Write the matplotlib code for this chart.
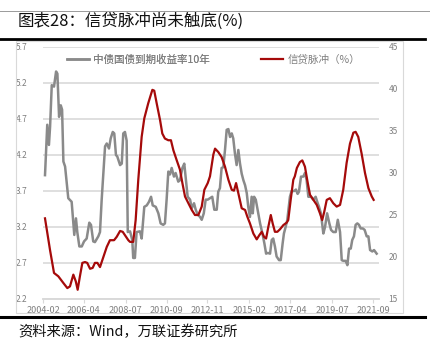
import matplotlib
matplotlib.use("Agg")
import matplotlib.pyplot as plt
from matplotlib.lines import Line2D
from matplotlib.patches import Rectangle

plt.rcParams['font.family'] = ['Noto Sans CJK SC', 'DejaVu Sans']

# 10-year China government bond yield (%), time in decimal years
bond_t = [2004.19, 2004.31, 2004.40, 2004.46, 2004.55, 2004.67, 2004.78, 2004.85, 2004.94, 2005.03,
          2005.10, 2005.17, 2005.26, 2005.43, 2005.61, 2005.75, 2005.84, 2005.91, 2006.02, 2006.15,
          2006.27, 2006.41, 2006.55, 2006.64, 2006.76, 2006.85, 2007.03, 2007.12, 2007.21, 2007.39,
          2007.48, 2007.60, 2007.69, 2007.80, 2007.88, 2007.97, 2008.04, 2008.19, 2008.28, 2008.36,
          2008.45, 2008.54, 2008.60, 2008.72, 2008.84, 2008.89, 2008.98, 2009.07, 2009.25, 2009.34,
          2009.48, 2009.61, 2009.73, 2009.84, 2009.93, 2010.09, 2010.23, 2010.35, 2010.49, 2010.58,
          2010.67, 2010.76, 2010.85, 2010.94, 2011.06, 2011.15, 2011.29, 2011.38, 2011.51, 2011.61,
          2011.70, 2011.79, 2011.92, 2012.01, 2012.13, 2012.22, 2012.33, 2012.45, 2012.54, 2012.65,
          2012.75, 2012.86, 2012.98, 2013.10, 2013.21, 2013.34, 2013.42, 2013.51, 2013.60, 2013.69,
          2013.78, 2013.87, 2013.96, 2014.05, 2014.14, 2014.22, 2014.31, 2014.40, 2014.49, 2014.58,
          2014.67, 2014.76, 2014.85, 2014.94, 2015.02, 2015.11, 2015.20, 2015.26, 2015.33, 2015.42,
          2015.52, 2015.65, 2015.79, 2015.88, 2015.97, 2016.06, 2016.18, 2016.27, 2016.35, 2016.44,
          2016.53, 2016.66, 2016.75, 2016.85, 2016.92, 2017.01, 2017.10, 2017.24, 2017.33, 2017.47,
          2017.56, 2017.65, 2017.72, 2017.83, 2017.95, 2018.04, 2018.13, 2018.22, 2018.36, 2018.48,
          2018.61, 2018.72, 2018.79, 2018.89, 2019.02, 2019.11, 2019.22, 2019.34, 2019.43, 2019.55,
          2019.68, 2019.79, 2019.91, 2020.00, 2020.08, 2020.21, 2020.30, 2020.39, 2020.48, 2020.56,
          2020.65, 2020.74, 2020.83, 2020.92, 2021.01, 2021.12, 2021.22, 2021.33, 2021.42, 2021.51,
          2021.63, 2021.72, 2021.86]
bond_v = [3.92, 4.62, 4.34, 4.59, 5.17, 5.15, 5.36, 5.33, 4.73, 4.89,
          4.83, 4.11, 4.04, 3.60, 3.55, 3.09, 3.32, 3.13, 2.93, 2.93,
          3.00, 3.04, 3.26, 3.23, 3.00, 2.99, 3.07, 3.13, 3.58, 4.32,
          4.36, 4.29, 4.43, 4.52, 4.50, 4.20, 4.18, 4.06, 4.08, 4.50,
          4.52, 4.40, 3.13, 3.14, 3.02, 2.77, 2.77, 3.13, 3.14, 3.04,
          3.48, 3.50, 3.55, 3.62, 3.50, 3.48, 3.39, 3.25, 3.23, 3.25,
          3.58, 3.97, 3.93, 4.02, 3.90, 3.95, 3.83, 3.85, 4.02, 4.08,
          3.85, 3.62, 3.58, 3.46, 3.53, 3.44, 3.37, 3.34, 3.30, 3.39,
          3.58, 3.58, 3.60, 3.62, 3.44, 3.44, 3.69, 3.74, 4.02, 4.03,
          4.27, 4.55, 4.56, 4.45, 4.50, 4.43, 4.22, 4.06, 4.27, 4.08,
          3.94, 3.85, 3.78, 3.67, 3.48, 3.34, 3.62, 3.39, 3.62, 3.58,
          3.44, 3.25, 3.09, 2.97, 2.83, 2.84, 2.83, 3.02, 3.04, 2.93,
          2.79, 2.74, 2.74, 2.97, 3.11, 3.20, 3.30, 3.62, 3.70, 3.70,
          3.72, 3.66, 3.69, 3.90, 3.90, 3.95, 3.85, 3.62, 3.62, 3.58,
          3.62, 3.53, 3.48, 3.39, 3.11, 3.20, 3.39, 3.25, 3.16, 3.13,
          3.13, 3.30, 3.13, 2.74, 2.73, 2.73, 2.67, 2.90, 2.90, 3.02,
          3.07, 3.23, 3.25, 3.23, 3.18, 3.18, 3.16, 3.07, 3.07, 2.88,
          2.86, 2.88, 2.83]

# Credit impulse (%), time in decimal years
credit_t = [2004.19, 2004.46, 2004.67, 2004.90, 2005.17, 2005.38, 2005.52, 2005.70, 2005.83, 2005.93,
            2006.05, 2006.18, 2006.32, 2006.44, 2006.59, 2006.73, 2006.85, 2006.98, 2007.12, 2007.30,
            2007.48, 2007.65, 2007.87, 2008.01, 2008.19, 2008.33, 2008.51, 2008.63, 2008.72, 2008.89,
            2009.02, 2009.16, 2009.34, 2009.48, 2009.69, 2009.91, 2010.01, 2010.14, 2010.32, 2010.44,
            2010.58, 2010.76, 2010.90, 2011.03, 2011.21, 2011.38, 2011.51, 2011.65, 2011.83, 2012.01,
            2012.18, 2012.36, 2012.54, 2012.68, 2012.86, 2012.98, 2013.16, 2013.25, 2013.42, 2013.60,
            2013.78, 2013.96, 2014.14, 2014.26, 2014.37, 2014.49, 2014.67, 2014.85, 2014.97, 2015.11,
            2015.29, 2015.47, 2015.61, 2015.74, 2015.86, 2015.97, 2016.09, 2016.22, 2016.32, 2016.44,
            2016.57, 2016.71, 2016.89, 2017.07, 2017.15, 2017.28, 2017.42, 2017.50, 2017.61, 2017.77,
            2017.90, 2018.04, 2018.19, 2018.31, 2018.49, 2018.67, 2018.84, 2018.96, 2019.07, 2019.20,
            2019.37, 2019.55, 2019.73, 2019.91, 2020.08, 2020.26, 2020.44, 2020.62, 2020.74, 2020.88,
            2021.06, 2021.24, 2021.42, 2021.60, 2021.70]
credit_v = [24.6, 20.8, 18.1, 17.7, 16.9, 16.3, 16.5, 17.9, 17.1, 16.1,
            17.7, 19.3, 19.4, 19.3, 18.6, 18.7, 19.3, 19.3, 18.8, 20.0,
            21.2, 22.0, 22.0, 22.4, 23.1, 23.0, 22.4, 22.0, 21.8, 21.8,
            24.4, 29.2, 34.3, 36.5, 38.3, 39.9, 39.8, 38.3, 36.3, 34.7,
            34.1, 33.9, 33.9, 32.7, 31.5, 30.4, 28.8, 27.2, 26.4, 25.6,
            25.0, 25.0, 26.0, 28.0, 28.8, 29.6, 32.2, 32.9, 32.5, 31.9,
            30.75, 29.2, 28.0, 27.9, 28.8, 27.6, 25.8, 25.6, 24.8, 24.0,
            22.8, 22.1, 22.6, 23.0, 22.4, 22.2, 23.6, 25.0, 24.0, 23.0,
            23.0, 23.3, 23.8, 24.1, 24.4, 26.8, 29.2, 29.6, 30.6, 31.3,
            31.5, 30.75, 28.8, 27.4, 26.8, 26.2, 25.2, 24.4, 25.4, 26.8,
            27.0, 26.4, 26.0, 26.2, 28.0, 31.2, 33.5, 34.8, 34.9, 34.3,
            32.3, 30.0, 28.2, 27.2, 26.8]

tick_pos = [2004 + 1/12, 2006 + 3/12, 2008 + 6/12, 2010 + 8/12, 2012 + 10/12,
            2015 + 1/12, 2017 + 3/12, 2019 + 6/12, 2021 + 8/12]
tick_labels = ['2004-02', '2006-04', '2008-07', '2010-09', '2012-11',
               '2015-02', '2017-04', '2019-07', '2021-09']
left_ticks = [2.2, 2.7, 3.2, 3.7, 4.2, 4.7, 5.2, 5.7]
right_ticks = [15, 20, 25, 30, 35, 40, 45]

W, H = 431, 349
fig = plt.figure(figsize=(W / 100, H / 100), dpi=100)

gray = '#8a8a8a'
red = '#a50a0a'
label_col = '#7f7f7f'
grid_col = '#d9d9d9'

# outer chart frame
fig.patches.append(Rectangle((16 / W, 1 - 313 / H), 387 / W, 272 / H, transform=fig.transFigure,
                             facecolor='none', edgecolor=grid_col, lw=0.8))

ax = fig.add_axes([43 / W, 1 - 299 / H, 336 / W, 252 / H])
ax2 = ax.twinx()

ax.plot(bond_t, bond_v, color=gray, lw=1.8, solid_joinstyle='round', zorder=3)
ax2.plot(credit_t, credit_v, color=red, lw=1.6, solid_joinstyle='round', zorder=3)

ax.set_xlim(2004 + 1/12, 2004 + 1/12 + 336 * 0.05328)
ax.set_ylim(2.2, 5.7)
ax2.set_ylim(15, 45)

ax.set_yticks(left_ticks)
ax.set_yticklabels([f'{v:.1f}' for v in left_ticks])
ax2.set_yticks(right_ticks)
ax.set_xticks(tick_pos)
ax.set_xticklabels(tick_labels)

ax.grid(axis='y', color=grid_col, lw=1.2)
ax.set_axisbelow(True)
for a in (ax, ax2):
    for s in ('top', 'left', 'right'):
        a.spines[s].set_visible(False)
    a.spines['bottom'].set_color(grid_col)
    a.spines['bottom'].set_linewidth(1.2)
ax.tick_params(axis='y', length=0, pad=11, labelsize=6, labelcolor=label_col)
ax2.tick_params(axis='y', length=0, pad=7, labelsize=6, labelcolor=label_col)
ax.tick_params(axis='x', length=3, width=0.8, color=grid_col, pad=2, labelsize=6.5, labelcolor=label_col)

# legends
h1 = Line2D([], [], color=gray, lw=1.8)
h2 = Line2D([], [], color=red, lw=1.6)
leg1 = ax.legend([h1], ['中债国债到期收益率10年'], loc='center left',
                 bbox_to_anchor=((67 - 43) / 336, (299 - 60) / 252), frameon=False,
                 borderpad=0, borderaxespad=0, handlelength=2.1, handletextpad=0.4,
                 prop={'size': 7.6}, labelcolor=label_col)
ax.add_artist(leg1)
ax2.legend([h2], ['信贷脉冲（%）'], loc='center left',
           bbox_to_anchor=((261 - 43) / 336, (299 - 60) / 252), frameon=False,
           borderpad=0, borderaxespad=0, handlelength=2.1, handletextpad=0.4,
           prop={'size': 7.6}, labelcolor=label_col)

# header and footer rules
fig.add_artist(Line2D([0, 1], [1 - 11 / H] * 2, color='#9a9a9a', lw=0.7, transform=fig.transFigure))
fig.add_artist(Line2D([0, 425 / W], [1 - 39 / H] * 2, color='black', lw=2.0, transform=fig.transFigure))
fig.add_artist(Line2D([0, 425 / W], [1 - 317 / H] * 2, color='black', lw=2.2, transform=fig.transFigure))

fig.text(18 / W, 1 - 21 / H, '图表28：信贷脉冲尚未触底(%)', fontsize=11.9, color='#111111',
         ha='left', va='center')
fig.text(18 / W, 1 - 332 / H, '资料来源：Wind，万联证券研究所', fontsize=10.3, color='#111111',
         ha='left', va='center', style='italic')

fig.savefig('out.png', dpi=100)
